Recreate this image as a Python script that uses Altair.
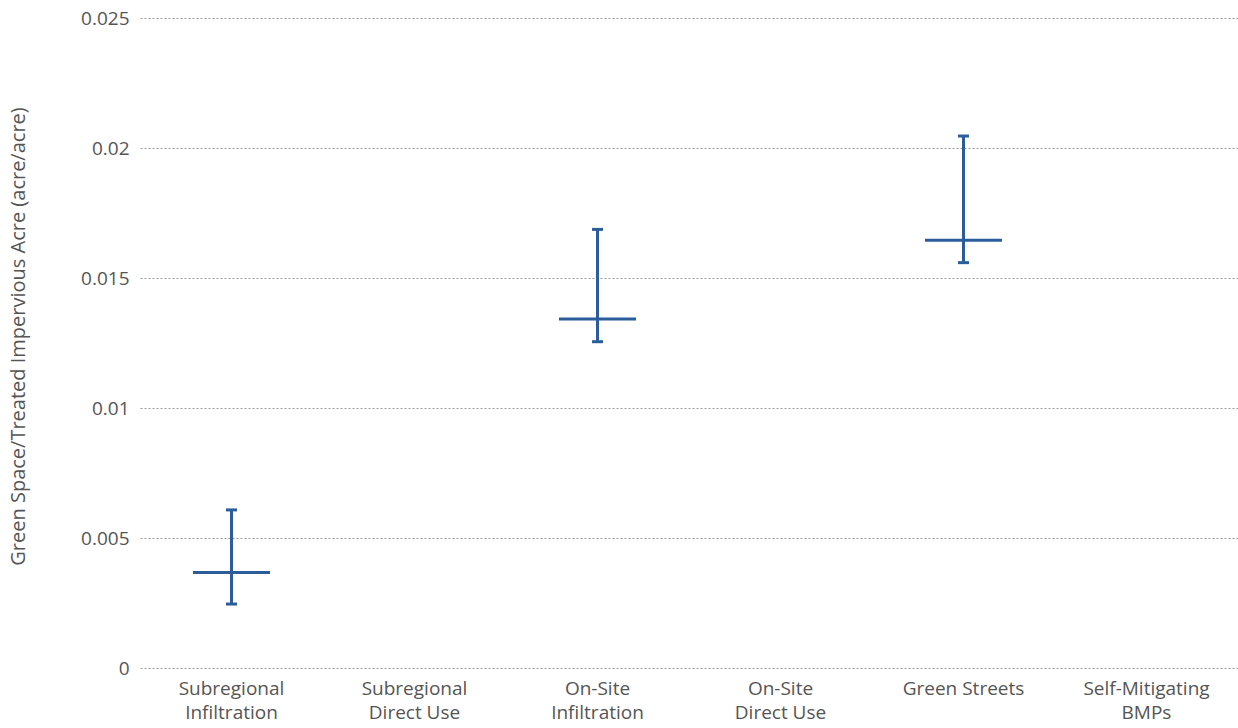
import altair as alt
import pandas as pd

# Treatment categories (line breaks mark wrapped axis labels)
categories = [
    "Subregional\nInfiltration",
    "Subregional\nDirect Use",
    "On-Site\nInfiltration",
    "On-Site\nDirect Use",
    "Green Streets",
    "Self-Mitigating\nBMPs",
]

# Range of green space per treated impervious acre (acre/acre)
measured = ["Subregional\nInfiltration", "On-Site\nInfiltration", "Green Streets"]
low_vals = [0.00246, 0.01255, 0.01559]
mid_vals = [0.00367, 0.01342, 0.01645]
high_vals = [0.00608, 0.01687, 0.02046]

y_ticks = [0, 0.005, 0.01, 0.015, 0.02, 0.025]

BLUE = "#2b5d9b"
TEXT = "#555555"
FONT = "Open Sans"

df = pd.DataFrame({"cat": measured, "low": low_vals, "mid": mid_vals, "high": high_vals})

x_enc = alt.X(
    "cat:N",
    sort=categories,
    scale=alt.Scale(domain=categories, paddingInner=0, paddingOuter=0),
    axis=alt.Axis(
        title=None,
        labelAngle=0,
        labelExpr="split(datum.label, '\\n')",
        labelFont=FONT,
        labelFontSize=19,
        labelColor=TEXT,
        labelLineHeight=24,
        labelPadding=11,
        domain=False,
        ticks=False,
        grid=False,
    ),
)

y_scale = alt.Scale(domain=[0, 0.025], nice=False)
y_axis = alt.Axis(
    title="Green Space/Treated Impervious Acre (acre/acre)",
    titleFont=FONT,
    titleFontSize=20,
    titleFontWeight="normal",
    titleColor=TEXT,
    titleAngle=270,
    titleX=-122,
    titleY=318,
    titleAlign="center",
    titleBaseline="middle",
    values=y_ticks,
    format="~g",
    labelFont=FONT,
    labelFontSize=19,
    labelColor=TEXT,
    labelPadding=11,
    domain=False,
    ticks=False,
    grid=True,
    gridColor="#9a9a9a",
    gridDash=[2, 2],
    gridWidth=1,
)

base = alt.Chart(df).encode(x=x_enc)

whisker = base.mark_rule(color=BLUE, strokeWidth=3).encode(
    y=alt.Y("low:Q", scale=y_scale, axis=y_axis),
    y2="high:Q",
)
median = base.mark_tick(color=BLUE, size=77, thickness=3, opacity=1).encode(
    y=alt.Y("mid:Q", scale=y_scale, axis=y_axis)
)
cap_low = base.mark_tick(color=BLUE, size=11, thickness=3, opacity=1).encode(
    y=alt.Y("low:Q", scale=y_scale, axis=y_axis)
)
cap_high = base.mark_tick(color=BLUE, size=11, thickness=3, opacity=1).encode(
    y=alt.Y("high:Q", scale=y_scale, axis=y_axis)
)

chart = (
    alt.layer(whisker, median, cap_low, cap_high)
    .properties(
        width=1098,
        height=650,
        autosize=alt.AutoSizeParams(type="none"),
        padding={"left": 140, "top": 18, "right": 0, "bottom": 60},
        view=alt.ViewBackground(stroke="transparent", strokeWidth=0),
    )
    .configure_axis(domain=False, ticks=False)
    .configure_view(stroke="transparent", strokeWidth=0)
    .configure(background="white", style={"cell": {"stroke": "transparent", "strokeWidth": 0}})
)

chart.save("out.html", embed_options={"renderer": "svg", "actions": False})
